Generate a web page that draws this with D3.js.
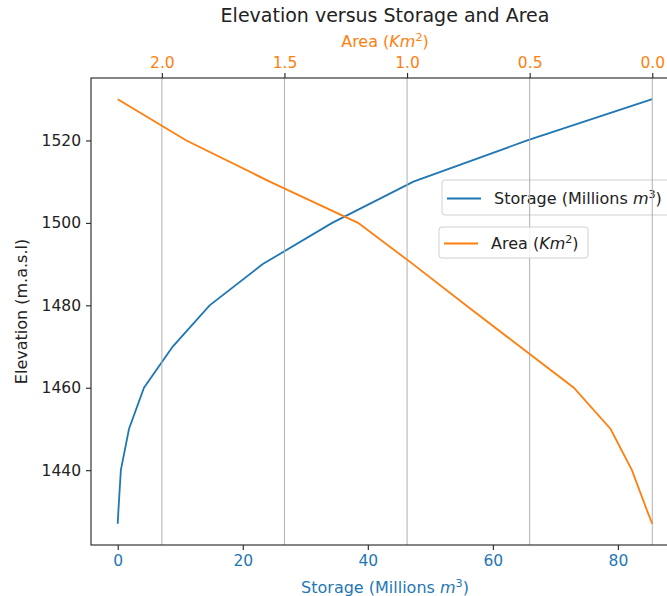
<!DOCTYPE html>
<html>
<head>
<meta charset="utf-8">
<script src="https://cdn.jsdelivr.net/npm/d3@7"></script>
<style>
    body { margin: 0; background: #fff; }
    #chart { width: 667px; height: 596px; overflow: hidden; }
    text { font-family: "DejaVu Sans", sans-serif; }
</style>
</head>
<body>
<div id="chart"></div>
<script>
// reservoir curve
const elevation = [1427, 1430, 1440, 1450, 1460, 1470, 1480, 1490, 1500, 1510, 1520, 1530];
const storage   = [0, 0.1, 0.5, 1.8, 4.2, 8.8, 14.7, 23.2, 34.3, 47.3, 65.5, 85.5];
const area      = [0, 0.02, 0.083, 0.17, 0.32, 0.54, 0.76, 0.976, 1.20, 1.56, 1.90, 2.18];

const storageTicks = [0, 20, 40, 60, 80];
const areaTicks = [2.0, 1.5, 1.0, 0.5, 0.0];
const elevationTicks = [1440, 1460, 1480, 1500, 1520];

const blue = "#1f77b4",
    orange = "#ff7f0e";

class ElevationPlot {
    constructor(parentElement) {
        this.parentElement = parentElement;
        this.initVis();
    }

    // matplotlib style 5% padding
    pad(values) {
        let [lo, hi] = d3.extent(values);
        let r = hi - lo;
        return [lo - r * 0.05, hi + r * 0.05];
    }

    initVis() {
        let vis = this;

        vis.margin = {top: 78, left: 91};
        vis.width = 588;
        vis.height = 467;

        vis.root = d3.select("#" + vis.parentElement).append("svg")
            .attr("width", 667)
            .attr("height", 596);

        vis.svg = vis.root.append("g")
            .attr("transform", "translate(" + vis.margin.left + "," + vis.margin.top + ")");

        // scales
        vis.x = d3.scaleLinear().domain(vis.pad(storage)).range([0, vis.width]);
        let ad = vis.pad(area);
        vis.x2 = d3.scaleLinear().domain([ad[1], ad[0]]).range([0, vis.width]);
        vis.y = d3.scaleLinear().domain(vis.pad(elevation)).range([vis.height, 0]);

        vis.drawVis();
    }

    drawVis() {
        let vis = this;
        let fs = 15.5,
            ls = 16;

        // storage line (first axes)
        let storageLine = d3.line()
            .x((d, i) => vis.x(storage[i]))
            .y(d => vis.y(d));

        vis.svg.append("path")
            .datum(elevation)
            .attr("fill", "none")
            .attr("stroke", blue)
            .attr("stroke-width", 1.8)
            .attr("d", storageLine);

        // legend for first axes
        vis.legend(vis.svg, 351, 102, 230, 35, blue, ls, [
            {t: "Storage (Millions "},
            {t: "m", italic: true},
            {t: "3", sup: true},
            {t: ")"}
        ]);

        // grid of the twin axes
        vis.svg.append("g")
            .selectAll("line")
            .data(areaTicks)
            .enter()
            .append("line")
            .attr("x1", d => vis.x2(d))
            .attr("x2", d => vis.x2(d))
            .attr("y1", 0)
            .attr("y2", vis.height)
            .attr("stroke", "#b0b0b0")
            .attr("stroke-width", 1);

        // area line (twin axes)
        let areaLine = d3.line()
            .x((d, i) => vis.x2(area[i]))
            .y(d => vis.y(d));

        vis.svg.append("path")
            .datum(elevation)
            .attr("fill", "none")
            .attr("stroke", orange)
            .attr("stroke-width", 1.8)
            .attr("d", areaLine);

        vis.legend(vis.svg, 348, 149, 149, 31, orange, ls, [
            {t: "Area ("},
            {t: "Km", italic: true},
            {t: "2", sup: true},
            {t: ")"}
        ]);

        // frame
        vis.svg.append("rect")
            .attr("width", vis.width)
            .attr("height", vis.height)
            .attr("fill", "none")
            .attr("stroke", "#222")
            .attr("stroke-width", 1.1);

        // axes
        let xAxis = vis.svg.append("g")
            .attr("transform", "translate(0," + vis.height + ")")
            .call(d3.axisBottom(vis.x).tickValues(storageTicks).tickSize(5).tickPadding(5).tickFormat(d3.format("d")));
        let x2Axis = vis.svg.append("g")
            .call(d3.axisTop(vis.x2).tickValues(areaTicks).tickSize(5).tickPadding(5).tickFormat(d3.format(".1f")));
        let yAxis = vis.svg.append("g")
            .call(d3.axisLeft(vis.y).tickValues(elevationTicks).tickSize(5).tickPadding(5).tickFormat(d3.format("d")));

        [[xAxis, blue], [x2Axis, orange], [yAxis, "#222"]].forEach(([g, c]) => {
            g.select(".domain").remove();
            g.selectAll(".tick line").attr("stroke", "#222").attr("stroke-width", 1.1);
            g.selectAll(".tick text")
                .attr("fill", c)
                .style("font-family", "DejaVu Sans")
                .style("font-size", fs + "px");
        });

        // axis titles
        let bx = vis.svg.append("text")
            .attr("x", vis.width / 2)
            .attr("y", vis.height + 48)
            .attr("text-anchor", "middle")
            .attr("fill", blue)
            .style("font-size", ls + "px");
        vis.rich(bx, [{t: "Storage (Millions "}, {t: "m", italic: true}, {t: "3", sup: true}, {t: ")"}]);

        let tx = vis.svg.append("text")
            .attr("x", vis.width / 2)
            .attr("y", -31)
            .attr("text-anchor", "middle")
            .attr("fill", orange)
            .style("font-size", ls + "px");
        vis.rich(tx, [{t: "Area ("}, {t: "Km", italic: true}, {t: "2", sup: true}, {t: ")"}]);

        vis.svg.append("text")
            .attr("transform", `translate(${-64}, ${vis.height / 2}) rotate(-90)`)
            .attr("text-anchor", "middle")
            .attr("fill", "#222")
            .style("font-size", ls + "px")
            .text("Elevation (m.a.s.l)");

        vis.svg.append("text")
            .attr("x", vis.width / 2)
            .attr("y", -56)
            .attr("text-anchor", "middle")
            .attr("fill", "#222")
            .style("font-size", "19px")
            .text("Elevation versus Storage and Area");
    }

    rich(sel, parts) {
        parts.forEach(p => {
            let ts = sel.append("tspan").text(p.t);
            if (p.italic) ts.style("font-style", "italic");
            if (p.sup) ts.attr("baseline-shift", "super").style("font-size", "70%");
        });
    }

    legend(g, x, y, w, h, color, size, parts) {
        let vis = this;
        let lg = g.append("g").attr("transform", `translate(${x},${y})`);
        lg.append("rect")
            .attr("width", w)
            .attr("height", h)
            .attr("rx", 3)
            .attr("fill", "#fff")
            .attr("fill-opacity", 0.8)
            .attr("stroke", "#d0d0d0")
            .attr("stroke-width", 1);
        lg.append("line")
            .attr("x1", 5)
            .attr("x2", 39)
            .attr("y1", h / 2 + 1)
            .attr("y2", h / 2 + 1)
            .attr("stroke", color)
            .attr("stroke-width", 1.8);
        let t = lg.append("text")
            .attr("x", 52)
            .attr("y", h / 2 + 6)
            .attr("fill", "#222")
            .style("font-size", size + "px");
        vis.rich(t, parts);
    }
}

new ElevationPlot("chart");
</script>
</body>
</html>
